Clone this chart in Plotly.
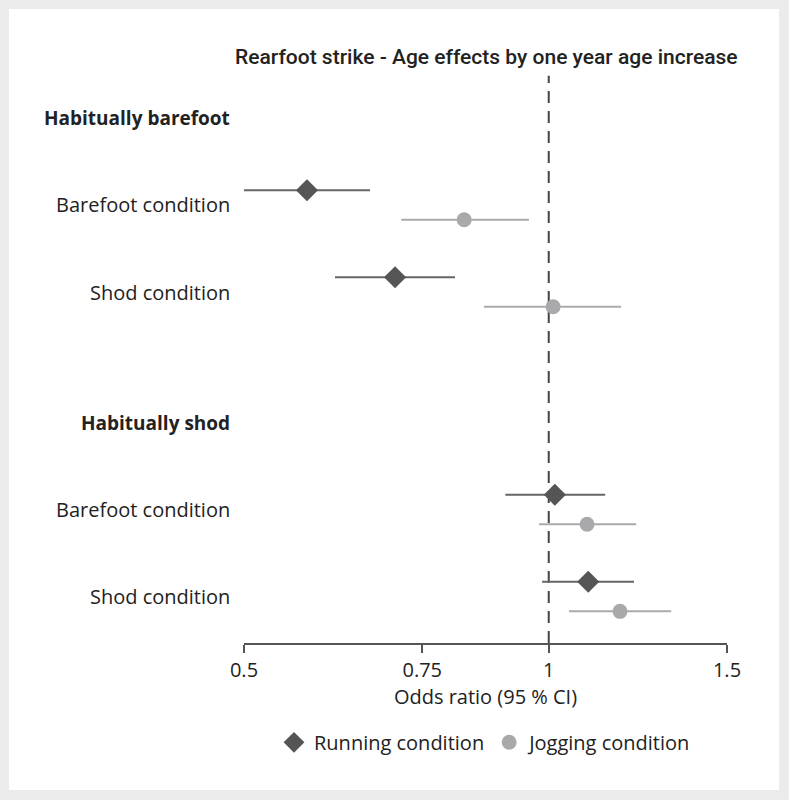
import plotly.graph_objects as go
import numpy as np

# ---- data ----
row_labels = ["Habitually barefoot", "Barefoot condition", "Shod condition",
              "Habitually shod", "Barefoot condition", "Shod condition"]
row_is_header = [True, False, False, True, False, False]
row_pos = [0, 1, 2, 3.5, 4.5, 5.5]

# condition rows (index into row_pos)
cond_rows = [1, 2, 4, 5]
running_or = [0.577, 0.705, 1.014, 1.094]
running_lo = [0.500, 0.615, 0.906, 0.985]
running_hi = [0.666, 0.808, 1.137, 1.214]
jogging_or = [0.825, 1.010, 1.091, 1.176]
jogging_lo = [0.715, 0.863, 0.978, 1.047]
jogging_hi = [0.956, 1.179, 1.220, 1.321]

x_ticks = [0.5, 0.75, 1, 1.5]
x_ticktext = ["0.5", "0.75", "1", "1.5"]

title_text = "Rearfoot strike - Age effects by one year age increase"
x_title = "Odds ratio (95 % CI)"

FONT = "'Open Sans', Lato, sans-serif"
RUN_C = "#555555"
RUN_L = "#666666"
JOG_C = "#a9a9ab"
JOG_L = "#aaaaaa"

offset = 0.17
run_y = [row_pos[i] - offset for i in cond_rows]
jog_y = [row_pos[i] + offset for i in cond_rows]

fig = go.Figure()

# white panel on grey background (first so it sits at the very bottom)
fig.add_shape(type="rect", xref="paper", yref="paper",
              x0=-0.4865, x1=1.1077, y0=-0.2579, y1=1.1123,
              fillcolor="white", line=dict(width=0), layer="below")

# reference dashed line at OR = 1
fig.add_shape(type="line", xref="x", yref="paper", x0=1, x1=1, y0=0, y1=0.995,
              line=dict(color="#444444", width=2, dash="12px,8px"), layer="below")


def add_series(name, xs, lo, hi, ys, color, lcolor, symbol, size):
    fig.add_trace(go.Scatter(
        x=xs, y=ys, mode="markers", name=name,
        marker=dict(symbol=symbol, size=size, color=color),
        error_x=dict(type="data", symmetric=False,
                     array=[h - v for h, v in zip(hi, xs)],
                     arrayminus=[v - l for v, l in zip(xs, lo)],
                     color=lcolor, thickness=2, width=0),
    ))

add_series("Running condition", running_or, running_lo, running_hi, run_y,
           RUN_C, RUN_L, "diamond", 17)
add_series("Jogging condition", jogging_or, jogging_lo, jogging_hi, jog_y,
           JOG_C, JOG_L, "circle", 15)

# row labels
for lab, hdr, pos in zip(row_labels, row_is_header, row_pos):
    fig.add_annotation(x=0, xref="paper", y=pos, yref="y", text=(f"<b>{lab}</b>" if hdr else lab),
                       xanchor="right", yanchor="middle", xshift=-12, showarrow=False,
                       font=dict(family=FONT, size=(19 if hdr else 20), color="#222222"))

# title
fig.add_annotation(x=0.502, xref="paper", y=1.0, yref="paper", yshift=16,
                   text=title_text, showarrow=False, xanchor="center", yanchor="middle",
                   font=dict(family="Roboto, sans-serif", size=21, color="#222222", weight=500))

fig.update_layout(
    width=789, height=800,
    paper_bgcolor="#ebebeb", plot_bgcolor="rgba(0,0,0,0)",
    margin=dict(l=244, r=62, t=73, b=157),
    showlegend=True,
    legend=dict(orientation="h", x=0.5, xanchor="center", y=-0.14, yanchor="top",
                font=dict(family=FONT, size=20, color="#222222"),
                itemwidth=30, bgcolor="rgba(0,0,0,0)", traceorder="normal"),
    xaxis=dict(type="log", range=[np.log10(0.5), np.log10(1.5)],
               tickvals=x_ticks, ticktext=x_ticktext,
               showgrid=False, zeroline=False,
               showline=True, linecolor="#555555", linewidth=1.5,
               ticks="outside", tickcolor="#555555", ticklen=8, tickwidth=1.5,
               tickfont=dict(family=FONT, size=20, color="#222222"),
               title=dict(text=x_title, font=dict(family=FONT, size=20, color="#222222"), standoff=8)),
    yaxis=dict(range=[6.034, -0.517], visible=False, showgrid=False, zeroline=False),
)

fig.write_html("out.html", config={"displayModeBar": False},
               post_script="document.body.style.margin='0';document.body.style.background='#ebebeb';")
